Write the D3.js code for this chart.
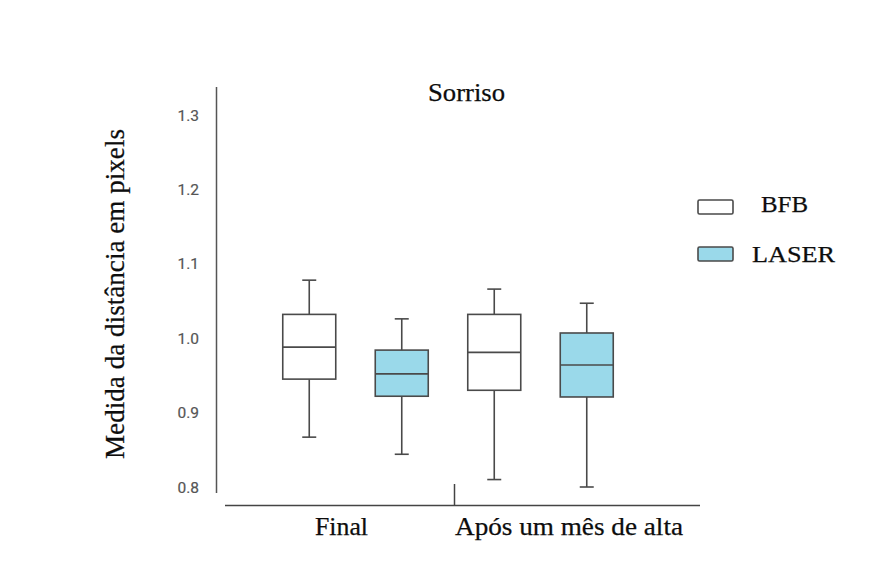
<!DOCTYPE html>
<html>
<head>
<meta charset="utf-8">
<script src="https://cdn.jsdelivr.net/npm/d3@7/dist/d3.min.js"></script>
<style>
  html, body { margin: 0; padding: 0; background: #fff; }
  svg { display: block; }
</style>
</head>
<body>
<svg id="chart" width="872" height="576"></svg>
<script>
// Periods (x groups) and treatment series
const periods = ["Final", "Após um mês de alta"];
const series = ["BFB", "LASER"];
const seriesFill = ["#ffffff", "#9ad9ea"];

// Box statistics per series, one entry per period: [whiskerLow, Q1, median, Q3, whiskerHigh]
const bfbStats = [
  [0.867, 0.945, 0.988, 1.032, 1.078],
  [0.810, 0.930, 0.981, 1.032, 1.066]
];
const laserStats = [
  [0.844, 0.922, 0.952, 0.984, 1.026],
  [0.800, 0.921, 0.964, 1.007, 1.047]
];
const yTicks = [0.8, 0.9, 1.0, 1.1, 1.2, 1.3];

const svg = d3.select("#chart");
const stroke = "#4a4a4a";
const serif = "'Liberation Serif', 'Times New Roman', serif";

const y = d3.scaleLinear().domain([0.8, 1.3]).range([487, 115]);
const x0 = d3.scaleBand().domain(periods).range([263, 633]).padding(0);
const x1 = d3.scaleBand().domain(series).range([0, x0.bandwidth()]).padding(0);
const boxW = 53, capW = 14;

// Serif label helper: fixed size, fitted to a given run length
function label(sel, x, yPos, size, len, txt) {
  return sel.append("text").attr("x", x).attr("y", yPos)
    .attr("font-family", serif).attr("font-size", size).attr("fill", "#0d0d0d")
    .attr("stroke", "#0d0d0d").attr("stroke-width", 0.25)
    .attr("textLength", len).attr("lengthAdjust", "spacingAndGlyphs")
    .text(txt);
}

// Y axis: vertical line + tick labels only
svg.append("line")
  .attr("x1", 216.5).attr("x2", 216.5).attr("y1", 87).attr("y2", 493)
  .attr("stroke", "#555").attr("stroke-width", 1.5);
svg.append("g").selectAll("text").data(yTicks).join("text")
  .attr("x", 199).attr("y", d => y(d)).attr("dy", "0.36em")
  .attr("text-anchor", "end")
  .attr("font-family", "Roboto, 'Liberation Sans', Arial, sans-serif")
  .attr("font-size", 15.5).attr("fill", "#555")
  .attr("stroke", "#555").attr("stroke-width", 0.2)
  .text(d3.format(".1f"));

// X baseline and group separator
svg.append("line")
  .attr("x1", 225).attr("x2", 700).attr("y1", 505.5).attr("y2", 505.5)
  .attr("stroke", "#444").attr("stroke-width", 1.5);
svg.append("line")
  .attr("x1", 454.5).attr("x2", 454.5).attr("y1", 484).attr("y2", 505)
  .attr("stroke", "#444").attr("stroke-width", 1.5);

// Period labels
label(svg, 315, 535, 25.5, 53, periods[0]);
label(svg, 455, 535, 25.5, 228, periods[1]);

// Boxes
const boxes = [];
periods.forEach((p, i) => {
  boxes.push({ period: p, s: series[0], fill: seriesFill[0], st: bfbStats[i] });
  boxes.push({ period: p, s: series[1], fill: seriesFill[1], st: laserStats[i] });
});

const g = svg.append("g");
boxes.forEach(b => {
  const cx = x0(b.period) + x1(b.s) + x1.bandwidth() / 2;
  const [lo, q1, med, q3, hi] = b.st;
  const bg = g.append("g").attr("stroke", stroke).attr("stroke-width", 1.6);
  // whiskers
  bg.append("line").attr("x1", cx).attr("x2", cx).attr("y1", y(hi)).attr("y2", y(q3));
  bg.append("line").attr("x1", cx).attr("x2", cx).attr("y1", y(q1)).attr("y2", y(lo));
  bg.append("line").attr("x1", cx - capW / 2).attr("x2", cx + capW / 2).attr("y1", y(hi)).attr("y2", y(hi));
  bg.append("line").attr("x1", cx - capW / 2).attr("x2", cx + capW / 2).attr("y1", y(lo)).attr("y2", y(lo));
  // box
  bg.append("rect").attr("x", cx - boxW / 2).attr("width", boxW)
    .attr("y", y(q3)).attr("height", y(q1) - y(q3)).attr("fill", b.fill);
  bg.append("line").attr("x1", cx - boxW / 2).attr("x2", cx + boxW / 2).attr("y1", y(med)).attr("y2", y(med));
});

// Title
label(svg, 428, 101, 25, 77, "Sorriso");

// Y axis title
svg.append("g").attr("transform", "translate(124,459) rotate(-90)")
  .call(s => label(s, 0, 0, 26.5, 330, "Medida da distância em pixels"));

// Legend
const legend = svg.append("g");
const legY = [207, 254];
const legTx = [761, 752];
const legLen = [47, 83];
const legBase = [212, 262];
series.forEach((s, i) => {
  legend.append("rect").attr("x", 698).attr("y", legY[i] - 7).attr("width", 35).attr("height", 14)
    .attr("rx", 1.5).attr("fill", seriesFill[i]).attr("stroke", stroke).attr("stroke-width", 1.6);
  label(legend, legTx[i], legBase[i], 24, legLen[i], s);
});
</script>
</body>
</html>
